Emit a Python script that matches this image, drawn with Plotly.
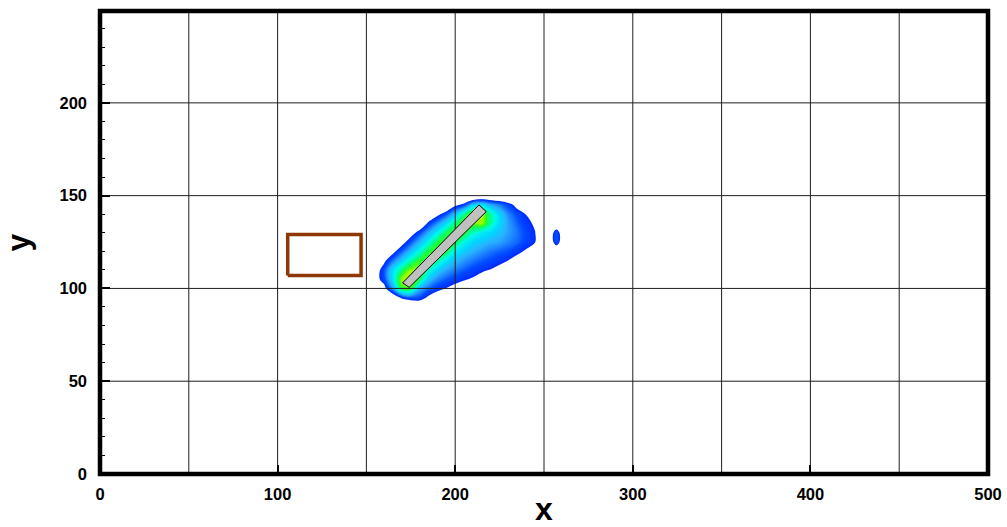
import plotly.graph_objects as go

# ---------------- data ----------------
# contour field sample positions
field_x = [150, 155, 160, 165, 170, 175, 180, 185, 190, 195, 200, 205, 210, 215,
           220, 225, 230, 235, 240, 245, 250, 254, 257, 260]
field_y = [90, 95, 100, 105, 110, 115, 120, 125, 130, 135, 140, 145, 150, 155]

# estimated field values (rows follow field_y, columns follow field_x)
field_z = [
    [-0.3, -0.3, -0.3, -0.3, -0.26, -0.25, -0.15, -0.18, -0.3, -0.3, -0.3, -0.3, -0.3, -0.3, -0.3, -0.3, -0.3, -0.3, -0.3, -0.3, -0.3, -0.3, -0.3, -0.3],
    [-0.3, -0.3, -0.3, -0.1, 0.11, 0.19, 0.17, 0.035, -0.06, -0.12, -0.19, -0.23, -0.3, -0.3, -0.3, -0.3, -0.3, -0.3, -0.3, -0.3, -0.3, -0.3, -0.3, -0.3],
    [-0.23, -0.21, 0.0, 0.33, 0.8, 0.8, 0.38, 0.23, 0.134, 0.068, 0.008, -0.05, -0.1, -0.14, -0.18, -0.22, -0.26, -0.3, -0.3, -0.3, -0.3, -0.3, -0.3, -0.3],
    [-0.3, -0.014, 0.164, 0.513, 0.9, 0.9, 0.75, 0.43, 0.29, 0.21, 0.144, 0.095, 0.054, -0.004, -0.05, -0.09, -0.13, -0.17, -0.2, -0.25, -0.3, -0.3, -0.3, -0.3],
    [-0.3, -0.05, 0.178, 0.495, 0.71, 0.88, 0.85, 0.64, 0.46, 0.35, 0.27, 0.21, 0.153, 0.105, 0.068, 0.02, -0.03, -0.08, -0.09, -0.15, -0.2, -0.3, -0.3, -0.3],
    [-0.3, -0.25, 0.03, 0.253, 0.444, 0.653, 0.8, 0.8, 0.68, 0.51, 0.40, 0.32, 0.26, 0.21, 0.17, 0.12, 0.07, 0.0, -0.1, -0.2, -0.3, -0.3, -0.3, -0.3],
    [-0.3, -0.3, -0.21, 0.013, 0.216, 0.40, 0.59, 0.78, 0.8, 0.78, 0.54, 0.44, 0.37, 0.31, 0.26, 0.22, 0.19, 0.12, 0.05, -0.1, -0.25, -0.3, -0.15, -0.3],
    [-0.3, -0.3, -0.3, -0.21, -0.008, 0.188, 0.38, 0.575, 0.77, 0.8, 0.78, 0.57, 0.47, 0.42, 0.37, 0.34, 0.28, 0.23, 0.15, 0.08, -0.2, -0.02, 0.2, -0.02],
    [-0.3, -0.3, -0.3, -0.3, -0.22, -0.025, 0.165, 0.36, 0.55, 0.75, 0.8, 0.8, 0.63, 0.53, 0.48, 0.41, 0.33, 0.25, 0.16, 0.08, -0.2, -0.02, 0.2, -0.02],
    [-0.3, -0.3, -0.3, -0.3, -0.3, -0.24, -0.15, 0.127, 0.30, 0.49, 0.71, 0.85, 0.85, 0.9, 0.66, 0.47, 0.33, 0.22, 0.12, 0.05, -0.2, -0.3, -0.15, -0.3],
    [-0.3, -0.3, -0.3, -0.3, -0.3, -0.3, -0.3, -0.15, 0.02, 0.19, 0.42, 0.69, 0.9, 0.9, 0.66, 0.46, 0.28, 0.17, 0.07, -0.15, -0.3, -0.3, -0.3, -0.3],
    [-0.3, -0.3, -0.3, -0.3, -0.3, -0.3, -0.3, -0.3, -0.3, -0.19, 0.03, 0.14, 0.44, 0.5, 0.36, 0.27, 0.16, 0.0, -0.2, -0.3, -0.3, -0.3, -0.3, -0.3],
    [-0.3, -0.3, -0.3, -0.3, -0.3, -0.3, -0.3, -0.3, -0.3, -0.3, -0.25, -0.25, -0.25, -0.2, -0.2, -0.2, -0.25, -0.3, -0.3, -0.3, -0.3, -0.3, -0.3, -0.3],
    [-0.3, -0.3, -0.3, -0.3, -0.3, -0.3, -0.3, -0.3, -0.3, -0.3, -0.3, -0.3, -0.3, -0.3, -0.3, -0.3, -0.3, -0.3, -0.3, -0.3, -0.3, -0.3, -0.3, -0.3],
]

# gray plate (corners)
plate_x = [170.4, 174.1, 217.5, 213.4]
plate_y = [103.0, 100.6, 141.4, 145.0]

# brown rectangle
box_x = [105.7, 147.0]
box_y = [106.9, 129.0]

# axes
x_range = [0, 500]
y_range = [0, 249.5]
grid_x = [50, 100, 150, 200, 250, 300, 350, 400, 450]
grid_y = [50, 100, 150, 200]

# ---------------- figure ----------------
colorscale = [
    [0.0, "rgba(255,255,255,0)"],
    [0.045, "rgba(255,255,255,0)"],
    [0.05, "rgb(0,45,255)"],
    [0.15, "rgb(0,75,255)"],
    [0.25, "rgb(30,130,255)"],
    [0.35, "rgb(40,180,255)"],
    [0.45, "rgb(0,215,255)"],
    [0.57, "rgb(0,250,230)"],
    [0.68, "rgb(0,255,150)"],
    [0.80, "rgb(40,255,40)"],
    [0.90, "rgb(160,255,0)"],
    [1.0, "rgb(235,255,0)"],
]

fig = go.Figure()

fig.add_trace(go.Contour(
    x=field_x, y=field_y, z=field_z,
    colorscale=colorscale, zmin=0.0, zmax=1.0,
    contours=dict(start=0.05, end=0.975, size=0.025, coloring="fill"),
    line=dict(width=0, smoothing=1),
    showscale=False, hoverinfo="skip",
))

# grid lines drawn above the field
gx, gy = [], []
for v in grid_x:
    gx += [v, v, None]
    gy += [y_range[0], y_range[1], None]
for v in grid_y:
    gx += [x_range[0], x_range[1], None]
    gy += [v, v, None]
fig.add_trace(go.Scatter(x=gx, y=gy, mode="lines",
                         line=dict(color="rgb(30,30,30)", width=1),
                         hoverinfo="skip", showlegend=False))

# plate
fig.add_trace(go.Scatter(
    x=plate_x + plate_x[:1], y=plate_y + plate_y[:1], mode="lines",
    fill="toself", fillcolor="rgb(192,192,192)",
    line=dict(color="black", width=1), hoverinfo="skip", showlegend=False))

# brown box
fig.add_trace(go.Scatter(
    x=[box_x[0], box_x[1], box_x[1], box_x[0], box_x[0]],
    y=[box_y[0], box_y[0], box_y[1], box_y[1], box_y[0]],
    mode="lines", line=dict(color="rgb(140,55,5)", width=3.5),
    hoverinfo="skip", showlegend=False))

tickfont = dict(family="Liberation Sans, Arial, sans-serif", size=16.5,
                color="black", weight="bold")
titlefont = dict(family="Liberation Sans, Arial, sans-serif", size=32,
                 color="black", weight="bold")

fig.update_layout(
    width=1007, height=527,
    margin=dict(l=100, r=19, t=11, b=53),
    paper_bgcolor="white", plot_bgcolor="white",
    showlegend=False,
    shapes=[dict(type="rect", xref="paper", yref="paper", x0=0, x1=1, y0=0, y1=1,
                 line=dict(color="black", width=4.5), layer="above")],
)
fig.update_xaxes(
    range=x_range, tick0=0, dtick=100, ticks="inside", ticklen=9, tickwidth=2,
    tickcolor="black", showgrid=False, zeroline=False, showline=False,
    tickfont=tickfont, ticklabelstandoff=8, automargin=False,
    title=dict(text="x", font=titlefont, standoff=2),
)
fig.update_yaxes(
    range=y_range, tick0=0, dtick=50, ticks="inside", ticklen=10, tickwidth=2,
    tickcolor="black", showgrid=False, zeroline=False, showline=False,
    tickfont=tickfont, ticklabelstandoff=12, automargin=False,
    minor=dict(dtick=10, ticks="inside", ticklen=5, tickwidth=1, tickcolor="black", showgrid=False),
    title=dict(text="y", font=titlefont, standoff=30),
)

fig.write_html("out.html")
